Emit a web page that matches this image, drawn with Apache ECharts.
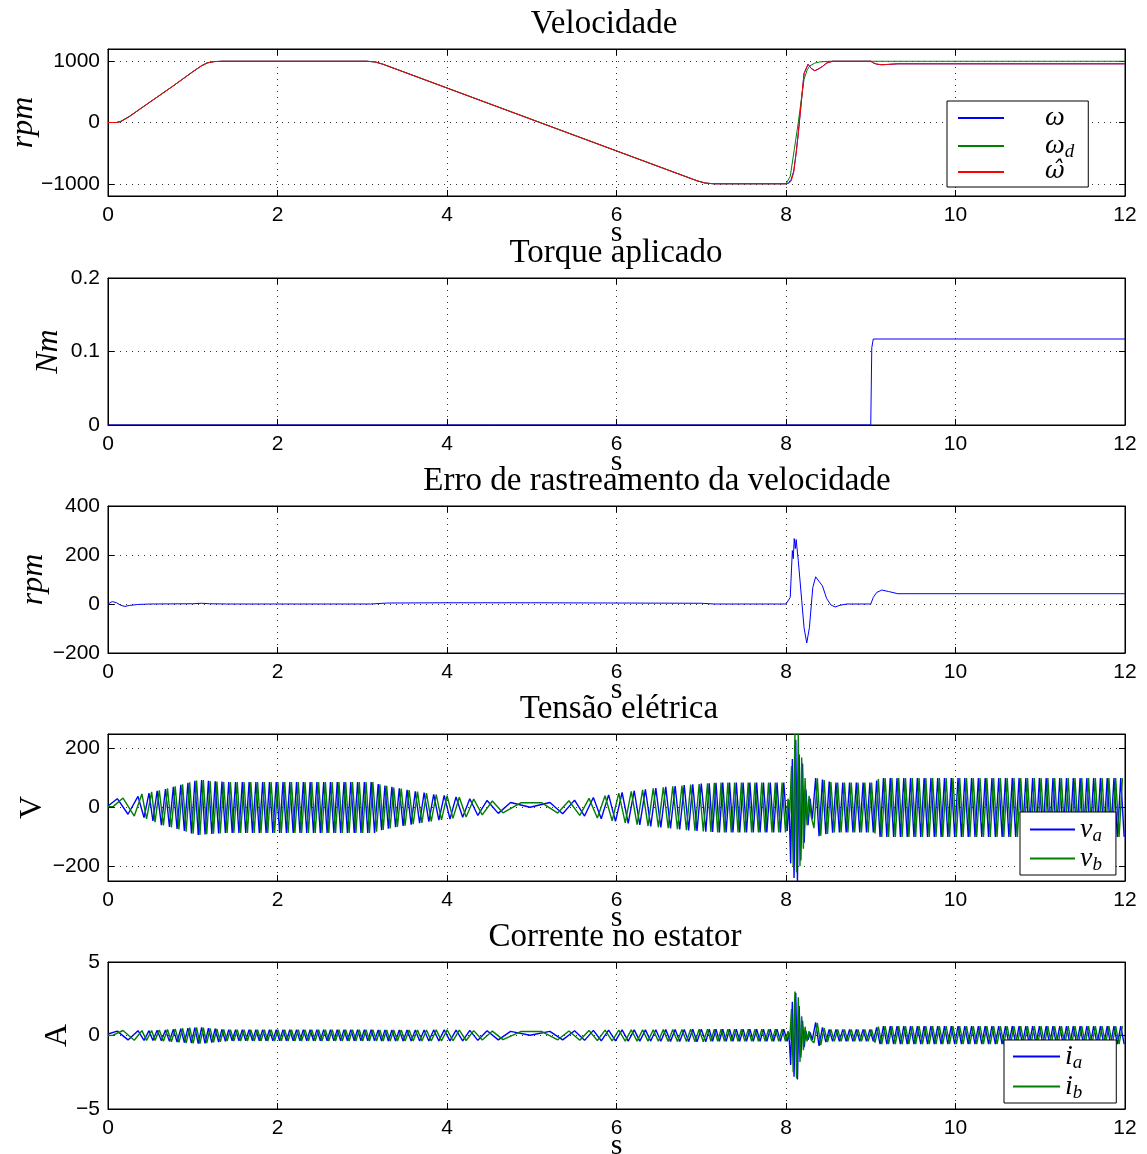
<!DOCTYPE html>
<html>
<head>
<meta charset="utf-8">
<script src="https://cdn.jsdelivr.net/npm/echarts@6/dist/echarts.min.js"></script>
<style>
  html, body { margin: 0; padding: 0; background: #fff; }
  #chart { width: 1147px; height: 1154px; }
</style>
</head>
<body>
<div id="chart"></div>
<script>
// ---- Velocidade (rpm) ----
const wdT = [0, 0.1, 0.15, 0.25, 0.5, 0.75, 1.0, 1.1, 1.17, 1.25,
  1.35, 3.05, 3.15, 3.25, 5.1, 6.95, 7.05, 7.15, 8.0, 8.02,
  8.05, 8.1, 8.145, 8.18, 8.213, 8.25, 8.28, 8.34, 8.4, 8.52, 12];
const wdV = [0, 0, 20, 100, 340, 580, 830, 925, 975, 995,
  1000, 1000, 990, 950, 0, -950, -990, -1000, -1000, -975,
  -880, -420, 0, 370, 705, 860, 923, 970, 990, 1000, 1000];
const wT = [0, 0.1, 0.15, 0.25, 0.5, 0.75, 1.0, 1.1, 1.17, 1.25,
  1.35, 3.05, 3.15, 3.25, 5.1, 6.95, 7.05, 7.15, 8.0, 8.03,
  8.06, 8.09, 8.12, 8.145, 8.186, 8.213, 8.26, 8.3, 8.34, 8.39,
  8.43, 8.48, 8.55, 9.0, 9.03, 9.07, 9.13, 9.21, 9.32, 12];
const wV = [0, 0, 15, 95, 338, 578, 828, 922, 972, 994,
  1000, 1000, 990, 948, -3, -952, -990, -1000, -1000, -985,
  -930, -800, -495, -177, 412, 802, 950, 880, 845, 880,
  915, 970, 1000, 1000, 973, 953, 943, 949, 958, 958];
const whV = [0, 0, 15, 95, 338, 578, 828, 922, 972, 994,
  1000, 1000, 990, 948, -3, -952, -990, -1000, -1000, -995,
  -960, -820, -500, -177, 412, 802, 950, 880, 845, 880,
  915, 970, 1000, 1000, 973, 953, 943, 949, 958, 958];

// ---- Torque aplicado (Nm) ----
const tqT = [0, 9.0, 9.012, 9.03, 12];
const tqV = [0, 0, 0.105, 0.117, 0.117];

// ---- Erro de rastreamento (rpm) ----
const eT = [0, 0.05, 0.1, 0.15, 0.2, 0.25, 0.35, 0.5, 1.0, 1.1,
  1.2, 1.4, 3.1, 3.3, 4.0, 5.0, 6.0, 7.0, 7.15, 8.0,
  8.05, 8.075, 8.086, 8.097, 8.11, 8.12, 8.145, 8.186, 8.213, 8.245,
  8.276, 8.316, 8.35, 8.39, 8.43, 8.48, 8.53, 8.58, 8.64, 8.72,
  9.0, 9.03, 9.07, 9.13, 9.21, 9.32, 12];
const eV = [0, 10, 5, -5, -10, -6, -2, 0, 1, 3,
  1, 0, 0, 4, 5, 5, 4, 3, 0, 0,
  27, 218, 185, 267, 226, 263, 177, 13, -97, -159,
  -97, 67, 111, 92, 74, 22, -4, -12, -5, 0,
  0, 27, 47, 57, 51, 42, 42];

// ---- extrema instants of phase a / phase b (s) ----
const aT = [0, 0.11, 0.236, 0.354, 0.425, 0.484, 0.53, 0.58,
  0.63, 0.678, 0.725, 0.771, 0.815, 0.859, 0.901, 0.943, 0.985, 1.025, 1.065, 1.105, 1.145,
  1.185, 1.225, 1.265, 1.305, 1.345, 1.385, 1.425, 1.465, 1.505, 1.545,
  1.585, 1.625, 1.665, 1.705, 1.745, 1.785, 1.825, 1.865, 1.905, 1.945,
  1.985, 2.025, 2.065, 2.105, 2.145, 2.185, 2.225, 2.265, 2.305, 2.345,
  2.385, 2.425, 2.465, 2.505, 2.545, 2.585, 2.625, 2.665, 2.705, 2.745,
  2.785, 2.825, 2.865, 2.905, 2.945, 2.985, 3.025, 3.065, 3.105, 3.145,
  3.188, 3.228, 3.268, 3.308, 3.35, 3.393, 3.437, 3.482, 3.529, 3.577, 3.626, 3.677, 3.73,
  3.786, 3.843, 3.904, 3.967, 4.035, 4.107, 4.185, 4.269, 4.364, 4.473, 4.605, 4.75, 4.98,
  5.214, 5.365, 5.505, 5.623, 5.727, 5.82, 5.907, 5.988, 6.066, 6.138, 6.209, 6.275, 6.341,
  6.404, 6.464, 6.523, 6.581, 6.637, 6.692, 6.746, 6.799, 6.851, 6.9, 6.95, 7.0, 7.054,
  7.094, 7.134, 7.174, 7.214, 7.254, 7.294, 7.334, 7.374, 7.414, 7.454, 7.494, 7.534,
  7.574, 7.614, 7.654, 7.694, 7.734, 7.774, 7.814, 7.854, 7.894, 7.934, 7.974,
  8.014, 8.034, 8.055, 8.075, 8.095, 8.115, 8.135, 8.155, 8.175, 8.195, 8.215, 8.235, 8.26, 8.285, 8.31,
  8.35, 8.39, 8.43, 8.47, 8.51, 8.55, 8.59, 8.63, 8.67, 8.71,
  8.75, 8.79, 8.83, 8.87, 8.91, 8.95, 8.99, 9.03, 9.07, 9.11,
  9.15, 9.19, 9.23, 9.27, 9.31, 9.35, 9.39, 9.43, 9.47, 9.51,
  9.55, 9.59, 9.63, 9.67, 9.71, 9.75, 9.79, 9.83, 9.87, 9.91,
  9.95, 9.99, 10.03, 10.07, 10.11, 10.15, 10.19, 10.23, 10.27, 10.31,
  10.35, 10.39, 10.43, 10.47, 10.51, 10.55, 10.59, 10.63, 10.67, 10.71,
  10.75, 10.79, 10.83, 10.87, 10.91, 10.95, 10.99, 11.03, 11.07, 11.11,
  11.15, 11.19, 11.23, 11.27, 11.31, 11.35, 11.39, 11.43, 11.47, 11.51,
  11.55, 11.59, 11.63, 11.67, 11.71, 11.75, 11.79, 11.83, 11.87, 11.91,
  11.95, 11.99];
const bT = [0, 0.06, 0.177, 0.31, 0.4, 0.455, 0.515, 0.555,
  0.605, 0.654, 0.702, 0.748, 0.793, 0.837, 0.88, 0.922, 0.964, 1.005, 1.045, 1.085, 1.125, 1.165,
  1.205, 1.245, 1.285, 1.325, 1.365, 1.405, 1.445, 1.485, 1.525, 1.565,
  1.605, 1.645, 1.685, 1.725, 1.765, 1.805, 1.845, 1.885, 1.925, 1.965,
  2.005, 2.045, 2.085, 2.125, 2.165, 2.205, 2.245, 2.285, 2.325, 2.365,
  2.405, 2.445, 2.485, 2.525, 2.565, 2.605, 2.645, 2.685, 2.725, 2.765,
  2.805, 2.845, 2.885, 2.925, 2.965, 3.005, 3.045, 3.085, 3.125,
  3.169, 3.208, 3.247, 3.288, 3.329, 3.372, 3.415, 3.46, 3.505, 3.553, 3.601, 3.652, 3.704, 3.758,
  3.814, 3.873, 3.935, 4.001, 4.07, 4.145, 4.226, 4.315, 4.416, 4.535, 4.66, 4.87, 5.12,
  5.307, 5.439, 5.567, 5.676, 5.774, 5.865, 5.949, 6.027, 6.103, 6.174, 6.243, 6.308, 6.372,
  6.433, 6.494, 6.552, 6.61, 6.664, 6.719, 6.772, 6.825, 6.875, 6.926, 6.975, 7.024,
  7.074, 7.114, 7.154, 7.194, 7.234, 7.274, 7.314, 7.354, 7.394, 7.434, 7.474, 7.514,
  7.554, 7.594, 7.634, 7.674, 7.714, 7.754, 7.794, 7.834, 7.874, 7.914, 7.954, 7.994,
  8.024, 8.044, 8.065, 8.085, 8.105, 8.125, 8.145, 8.165, 8.185, 8.205, 8.225, 8.248, 8.272, 8.297, 8.33,
  8.37, 8.41, 8.45, 8.49, 8.53, 8.57, 8.61, 8.65, 8.69, 8.73,
  8.77, 8.81, 8.85, 8.89, 8.93, 8.97, 9.01, 9.05, 9.09, 9.13,
  9.17, 9.21, 9.25, 9.29, 9.33, 9.37, 9.41, 9.45, 9.49, 9.53,
  9.57, 9.61, 9.65, 9.69, 9.73, 9.77, 9.81, 9.85, 9.89, 9.93,
  9.97, 10.01, 10.05, 10.09, 10.13, 10.17, 10.21, 10.25, 10.29, 10.33,
  10.37, 10.41, 10.45, 10.49, 10.53, 10.57, 10.61, 10.65, 10.69, 10.73,
  10.77, 10.81, 10.85, 10.89, 10.93, 10.97, 11.01, 11.05, 11.09, 11.13,
  11.17, 11.21, 11.25, 11.29, 11.33, 11.37, 11.41, 11.45, 11.49, 11.53,
  11.57, 11.61, 11.65, 11.69, 11.73, 11.77, 11.81, 11.85, 11.89, 11.93,
  11.97];

// ---- Tensão elétrica (V), values at aT / bT ----
const vaV = [5, 30, -23, 38, -34, 49, -46, 57,
  -60, 63, -66, 70, -73, 77, -80, 84, -88, 91, -93, 93, -92,
  91, -90, 89, -88, 88, -87, 87, -87, 87, -87,
  87, -87, 87, -87, 87, -87, 87, -87, 87, -87,
  87, -87, 87, -87, 87, -87, 87, -87, 87, -87,
  87, -87, 87, -87, 87, -87, 87, -87, 87, -87,
  87, -87, 87, -87, 87, -87, 87, -87, 87, -87,
  80, -77, 75, -72, 70, -67, 65, -63, 60, -58, 55, -53, 51,
  -48, 45, -43, 41, -39, 36, -33, 30, -27, 24, -20, 17, 1,
  17, -21, 25, -29, 34, -38, 43, -47, 51, -54, 57, -59, 62,
  -64, 66, -68, 70, -71, 73, -75, 76, -78, 79, -80, 81, -82,
  82, -83, 84, -85, 85, -85, 85, -85, 85, -85, 85, -85,
  85, -85, 85, -85, 85, -85, 85, -85, 85, -85, 85,
  -80, 25, -190, 165, -240, 230, -250, 180, -180, 150, -120, 60, -60, 30, -40,
  100, -98, 95, -91, 88, -86, 85, -85, 85, -85,
  85, -85, 85, -85, 85, -85, 85, -85, 92, -100,
  100, -100, 100, -100, 100, -100, 100, -100, 100, -100,
  100, -100, 100, -100, 100, -100, 100, -100, 100, -100,
  100, -100, 100, -100, 100, -100, 100, -100, 100, -100,
  100, -100, 100, -100, 100, -100, 100, -100, 100, -100,
  100, -100, 100, -100, 100, -100, 100, -100, 100, -100,
  100, -100, 100, -100, 100, -100, 100, -100, 100, -100,
  100, -100, 100, -100, 100, -100, 100, -100, 100, -100,
  100, -100];
const vbV = [3, 3, 32, -29, 46, -39, 53, -50,
  58, -61, 65, -68, 72, -75, 79, -82, 86, -89, 92, -93, 93, -91,
  90, -89, 88, -88, 87, -87, 87, -87, 87, -87,
  87, -87, 87, -87, 87, -87, 87, -87, 87, -87,
  87, -87, 87, -87, 87, -87, 87, -87, 87, -87,
  87, -87, 87, -87, 87, -87, 87, -87, 87, -87,
  87, -87, 87, -87, 87, -87, 87, -87, 87,
  -82, 79, -76, 74, -71, 68, -66, 64, -62, 59, -57, 54, -52, 49,
  -47, 44, -42, 40, -37, 35, -32, 29, -25, 22, -18, 16, 16,
  -19, 23, -27, 31, -36, 40, -45, 49, -52, 55, -58, 60, -63,
  65, -67, 69, -70, 72, -74, 75, -77, 78, -79, 80, -81,
  82, -83, 84, -85, 85, -85, 85, -85, 85, -85, 85, -85,
  85, -85, 85, -85, 85, -85, 85, -85, 85, -85, 85, -85,
  30, -20, 140, -200, 250, -220, 250, -200, 170, -140, 100, -60, 40, -30, -70,
  99, -96, 93, -90, 87, -85, 85, -85, 85, -85,
  85, -85, 85, -85, 85, -85, 85, -88, 97, -100,
  100, -100, 100, -100, 100, -100, 100, -100, 100, -100,
  100, -100, 100, -100, 100, -100, 100, -100, 100, -100,
  100, -100, 100, -100, 100, -100, 100, -100, 100, -100,
  100, -100, 100, -100, 100, -100, 100, -100, 100, -100,
  100, -100, 100, -100, 100, -100, 100, -100, 100, -100,
  100, -100, 100, -100, 100, -100, 100, -100, 100, -100,
  100, -100, 100, -100, 100, -100, 100, -100, 100, -100,
  100];

// ---- Corrente no estator (A), values at aT / bT ----
const iaV = [0.1, 0.3, -0.3, 0.33, -0.33, 0.33, -0.34, 0.35,
  -0.36, 0.38, -0.4, 0.42, -0.44, 0.46, -0.48, 0.5, -0.52, 0.54, -0.55, 0.55, -0.53,
  0.5, -0.48, 0.46, -0.44, 0.42, -0.4, 0.4, -0.36, 0.4, -0.36,
  0.4, -0.36, 0.4, -0.36, 0.4, -0.36, 0.4, -0.36, 0.4, -0.36,
  0.4, -0.36, 0.4, -0.36, 0.4, -0.36, 0.4, -0.36, 0.4, -0.36,
  0.4, -0.36, 0.4, -0.36, 0.4, -0.36, 0.4, -0.36, 0.4, -0.36,
  0.4, -0.36, 0.4, -0.36, 0.4, -0.36, 0.4, -0.36, 0.4, -0.36,
  0.38, -0.37, 0.38, -0.37, 0.38, -0.37, 0.38, -0.37, 0.38, -0.37, 0.38, -0.37, 0.38,
  -0.37, 0.38, -0.37, 0.38, -0.37, 0.37, -0.36, 0.35, -0.33, 0.32, -0.3, 0.28, 0.02,
  0.28, -0.3, 0.32, -0.33, 0.35, -0.36, 0.37, -0.37, 0.38, -0.38, 0.38, -0.38, 0.38,
  -0.38, 0.39, -0.39, 0.4, -0.4, 0.4, -0.41, 0.41, -0.41, 0.42, -0.42, 0.42, -0.42,
  0.43, -0.4, 0.43, -0.4, 0.43, -0.4, 0.43, -0.4, 0.43, -0.4, 0.43, -0.4,
  0.43, -0.4, 0.43, -0.4, 0.43, -0.4, 0.43, -0.4, 0.43, -0.4, 0.43,
  -0.4, 0.2, -2.0, 2.3, -2.8, 2.9, -3.0, 2.0, -1.5, 1.0, -0.8, 0.3, -0.3, 0.2, -0.3,
  0.9, -0.7, 0.55, -0.45, 0.42, -0.4, 0.42, -0.4, 0.42, -0.4,
  0.42, -0.4, 0.42, -0.4, 0.42, -0.4, 0.42, -0.4, 0.55, -0.58,
  0.63, -0.58, 0.63, -0.58, 0.63, -0.58, 0.63, -0.58, 0.63, -0.58,
  0.63, -0.58, 0.63, -0.58, 0.63, -0.58, 0.63, -0.58, 0.63, -0.58,
  0.63, -0.58, 0.63, -0.58, 0.63, -0.58, 0.63, -0.58, 0.63, -0.58,
  0.63, -0.58, 0.63, -0.58, 0.63, -0.58, 0.63, -0.58, 0.63, -0.58,
  0.63, -0.58, 0.63, -0.58, 0.63, -0.58, 0.63, -0.58, 0.63, -0.58,
  0.63, -0.58, 0.63, -0.58, 0.63, -0.58, 0.63, -0.58, 0.63, -0.58,
  0.63, -0.58, 0.63, -0.58, 0.63, -0.58, 0.63, -0.58, 0.63, -0.58,
  0.63, -0.58];
const ibV = [0, 0.02, 0.34, -0.32, 0.33, -0.33, 0.34, -0.34,
  0.37, -0.39, 0.41, -0.43, 0.45, -0.47, 0.49, -0.51, 0.53, -0.54, 0.55, -0.55, 0.54, -0.52,
  0.49, -0.47, 0.45, -0.43, 0.41, -0.37, 0.4, -0.37, 0.4, -0.37,
  0.4, -0.37, 0.4, -0.37, 0.4, -0.37, 0.4, -0.37, 0.4, -0.37,
  0.4, -0.37, 0.4, -0.37, 0.4, -0.37, 0.4, -0.37, 0.4, -0.37,
  0.4, -0.37, 0.4, -0.37, 0.4, -0.37, 0.4, -0.37, 0.4, -0.37,
  0.4, -0.37, 0.4, -0.37, 0.4, -0.37, 0.4, -0.37, 0.4,
  -0.37, 0.38, -0.37, 0.38, -0.37, 0.38, -0.37, 0.38, -0.37, 0.38, -0.37, 0.38, -0.37, 0.38,
  -0.37, 0.38, -0.37, 0.38, -0.36, 0.36, -0.34, 0.33, -0.31, 0.3, -0.28, 0.27, 0.27,
  -0.29, 0.31, -0.32, 0.34, -0.35, 0.36, -0.37, 0.37, -0.38, 0.38, -0.38, 0.38, -0.38,
  0.39, -0.39, 0.4, -0.4, 0.4, -0.41, 0.41, -0.41, 0.42, -0.42, 0.42, -0.42,
  0.43, -0.4, 0.43, -0.4, 0.43, -0.4, 0.43, -0.4, 0.43, -0.4, 0.43, -0.4,
  0.43, -0.4, 0.43, -0.4, 0.43, -0.4, 0.43, -0.4, 0.43, -0.4, 0.43, -0.4,
  0.3, -0.3, 1.8, -2.5, 3.0, -2.9, 2.6, -1.8, 1.3, -1.0, 0.6, -0.4, 0.3, -0.3, -0.5,
  0.85, -0.65, 0.5, -0.44, 0.42, -0.4, 0.42, -0.4, 0.42, -0.4,
  0.42, -0.4, 0.42, -0.4, 0.42, -0.4, 0.42, -0.48, 0.6, -0.58,
  0.63, -0.58, 0.63, -0.58, 0.63, -0.58, 0.63, -0.58, 0.63, -0.58,
  0.63, -0.58, 0.63, -0.58, 0.63, -0.58, 0.63, -0.58, 0.63, -0.58,
  0.63, -0.58, 0.63, -0.58, 0.63, -0.58, 0.63, -0.58, 0.63, -0.58,
  0.63, -0.58, 0.63, -0.58, 0.63, -0.58, 0.63, -0.58, 0.63, -0.58,
  0.63, -0.58, 0.63, -0.58, 0.63, -0.58, 0.63, -0.58, 0.63, -0.58,
  0.63, -0.58, 0.63, -0.58, 0.63, -0.58, 0.63, -0.58, 0.63, -0.58,
  0.63, -0.58, 0.63, -0.58, 0.63, -0.58, 0.63, -0.58, 0.63, -0.58,
  0.63];

// ---- texts / ticks ----
const titles = ['Velocidade', 'Torque aplicado', 'Erro de rastreamento da velocidade', 'Tensão elétrica', 'Corrente no estator'];
const xTicks = [0, 2, 4, 6, 8, 10, 12];
const yTicks = [[-1000, 0, 1000], [0, 0.1, 0.2], [-200, 0, 200, 400], [-200, 0, 200], [-5, 0, 5]];
const yRange = [[-1200, 1200], [0, 0.2], [-200, 400], [-250, 250], [-5, 5]];
const yNames = ['rpm', 'Nm', 'rpm', 'V', 'A'];

const chart = echarts.init(document.getElementById('chart'));

const SERIF = '"Liberation Serif", "DejaVu Serif", serif';
const SANS = '"Liberation Sans", Arial, sans-serif';
const BLUE = '#0000ff', GREEN = '#008000', RED = '#ff0000';

const gridTops = [49, 278, 506, 734, 962];
const gridH = 147;
const titleX = [604, 616, 657, 619, 615];
const nameGaps = [68, 43, 58, 59, 34];

const pairs = (T, V) => T.map((t, i) => [t, V[i]]);
const minus = v => String(v).replace('-', '\u2212');

const grids = [], xAxes = [], yAxes = [], titleList = [];
for (let i = 0; i < 5; i++) {
  grids.push({ left: 108, right: 22, top: gridTops[i], height: gridH,
    show: true, borderColor: '#000', borderWidth: 1, backgroundColor: '#fff', outerBoundsMode: 'none' });
  titleList.push({ text: titles[i], left: titleX[i], top: gridTops[i] - 41, textAlign: 'center', padding: 0,
    textStyle: { fontFamily: SERIF, fontSize: 33, fontWeight: 'normal', color: '#000' } });
}
// bottom x axes
for (let i = 0; i < 5; i++) {
  xAxes.push({
    type: 'value', gridIndex: i, min: 0, max: 12, interval: 2, position: 'bottom',
    axisLine: { show: true, onZero: false, lineStyle: { color: '#000', width: 1 } },
    axisTick: { show: true, inside: true, length: 6, lineStyle: { color: '#000' } },
    axisLabel: { color: '#000', fontFamily: SANS, fontSize: 21, margin: 9 },
    splitLine: { show: true, lineStyle: { color: '#333', type: [1, 5], width: 1 } },
    name: 's', nameLocation: 'middle', nameGap: 22, nameMoveOverlap: false,
    nameTextStyle: { fontFamily: SERIF, fontSize: 30, color: '#000' }
  });
}
// top x axes (ticks only)
for (let i = 0; i < 5; i++) {
  xAxes.push({
    type: 'value', gridIndex: i, min: 0, max: 12, interval: 2, position: 'top',
    axisLine: { show: true, onZero: false, lineStyle: { color: '#000', width: 1 } },
    axisTick: { show: true, inside: true, length: 6, lineStyle: { color: '#000' } },
    axisLabel: { show: false }, splitLine: { show: false }
  });
}
// left y axes
for (let i = 0; i < 5; i++) {
  const italic = i < 3;
  yAxes.push({
    type: 'value', gridIndex: i, min: yRange[i][0], max: yRange[i][1], position: 'left',
    axisLine: { show: true, onZero: false, lineStyle: { color: '#000', width: 1 } },
    axisTick: { show: true, inside: true, length: 6, lineStyle: { color: '#000' }, customValues: yTicks[i] },
    axisLabel: { color: '#000', fontFamily: SANS, fontSize: 21, margin: 8, formatter: minus, customValues: yTicks[i] },
    splitLine: { show: true, lineStyle: { color: '#333', type: [1, 5], width: 1 } },
    name: yNames[i], nameLocation: 'middle', nameRotate: 90, nameGap: nameGaps[i], nameMoveOverlap: false,
    nameTextStyle: { fontFamily: SERIF, fontSize: 32, color: '#000', fontStyle: italic ? 'italic' : 'normal' }
  });
}
// right y axes (ticks only)
for (let i = 0; i < 5; i++) {
  yAxes.push({
    type: 'value', gridIndex: i, min: yRange[i][0], max: yRange[i][1], position: 'right',
    axisLine: { show: true, onZero: false, lineStyle: { color: '#000', width: 1 } },
    axisTick: { show: true, inside: true, length: 6, lineStyle: { color: '#000' }, customValues: yTicks[i] },
    axisLabel: { show: false, customValues: yTicks[i] }, splitLine: { show: false }
  });
}

const line = (name, grid, data, color, width) => ({
  name, type: 'line', xAxisIndex: grid, yAxisIndex: grid, data,
  showSymbol: false, symbol: 'none', animation: false, clip: true,
  lineStyle: { color, width: width || 1 }, itemStyle: { color }
});

const labelMap = {
  w: '{sp| }{g|ω}', wd: '{sp| }{g|ω}{sub|d}', wh: '{sp| }{gh|ω\u0302}',
  va: '{g|v}{sub|a}', vb: '{g|v}{sub|b}', ia: '{g|i}{sub|a}', ib: '{g|i}{sub|b}'
};
const rich = {
  sp: { width: 36 },
  g: { fontFamily: SERIF, fontStyle: 'italic', fontSize: 28, lineHeight: 26, color: '#000' },
  gh: { fontFamily: '"DejaVu Serif", serif', fontStyle: 'italic', fontSize: 24, lineHeight: 26, color: '#000' },
  sub: { fontFamily: SERIF, fontStyle: 'italic', fontSize: 19, lineHeight: 14, padding: [12, 0, 0, 0], color: '#000' }
};
const legendItem = (name, color) => ({ name, icon: 'rect', itemStyle: { color, borderWidth: 0, opacity: 1 } });
const legendBase = {
  orient: 'vertical', icon: 'rect', itemHeight: 2, selectedMode: false,
  backgroundColor: '#fff', borderColor: '#000', borderWidth: 1, borderRadius: 0,
  itemStyle: { borderWidth: 0 },
  formatter: n => labelMap[n], textStyle: { rich }
};

chart.setOption({
  animation: false,
  backgroundColor: '#fff',
  title: titleList,
  grid: grids,
  xAxis: xAxes,
  yAxis: yAxes,
  legend: [
    Object.assign({}, legendBase, {
      data: [legendItem('w', BLUE), legendItem('wd', GREEN), legendItem('wh', RED)],
      left: 947, top: 101, itemWidth: 46, itemGap: -1.5, padding: [3, 14, 3, 11] }),
    Object.assign({}, legendBase, {
      data: [legendItem('va', BLUE), legendItem('vb', GREEN)],
      left: 1020, top: 812, itemWidth: 45, itemGap: -2, padding: [2, 14, 1, 10] }),
    Object.assign({}, legendBase, {
      data: [legendItem('ia', BLUE), legendItem('ib', GREEN)],
      left: 1004, top: 1040, itemWidth: 47, itemGap: -1, padding: [1, 34, 1, 9] })
  ],
  series: [
    line('w', 0, pairs(wT, wV), BLUE),
    line('wd', 0, pairs(wdT, wdV), GREEN),
    line('wh', 0, pairs(wT, whV), RED),
    line('tq', 1, pairs(tqT, tqV), BLUE),
    line('err', 2, pairs(eT, eV), BLUE),
    line('va', 3, pairs(aT, vaV), BLUE, 1.4),
    line('vb', 3, pairs(bT, vbV), GREEN, 1.4),
    line('ia', 4, pairs(aT, iaV), BLUE, 1.4),
    line('ib', 4, pairs(bT, ibV), GREEN, 1.4)
  ]
});
</script>
</body>
</html>
